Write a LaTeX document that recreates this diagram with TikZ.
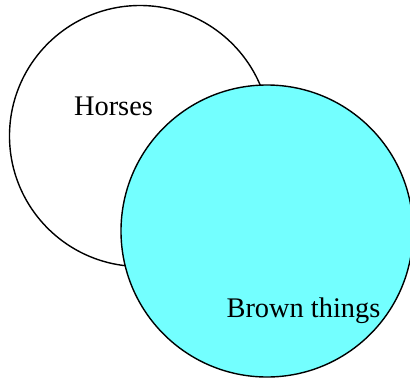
\documentclass[tikz,border=0pt]{standalone}
\usepackage{fontspec}
\setmainfont{Liberation Serif}
\usetikzlibrary{shapes.geometric}
\definecolor{vncyan}{HTML}{73FFFF}
\tikzset{
  setring/.style={circle,draw=black,line width=1.4pt,inner sep=0pt},
  setlabel/.style={font=\fontsize{28.4}{32}\selectfont,text=black,anchor=base,inner sep=0pt},
}

\begin{document}
\begin{tikzpicture}[x=1pt,y=-1pt]
  \useasboundingbox (0,0) rectangle (410,381);
  \node[setring,fill=white,minimum size=261] (horses) at (140,136) {};
  \node[setring,fill=vncyan,minimum size=292] (brown) at (267,231) {};
  \node[setlabel] (lhorses) at (113.5,115) {Horses};
  \node[setlabel] (lbrown) at (303.5,317) {Brown things};
\end{tikzpicture}
\end{document}
